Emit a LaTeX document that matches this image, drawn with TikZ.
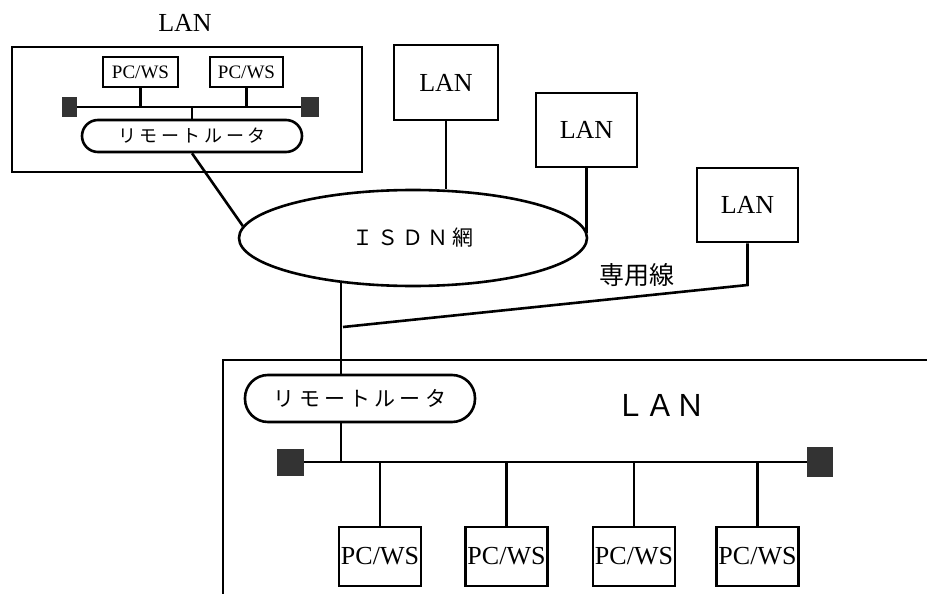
\documentclass[tikz,border=0pt]{standalone}
\usepackage{fontspec}
\usetikzlibrary{shapes.geometric}
\setmainfont{Liberation Serif}
\newfontfamily\jpfont{Noto Sans CJK JP}
\newfontfamily\jpwide[LetterSpace=20]{Noto Sans CJK JP}

\tikzset{
	wire/.style={line width=2.6pt},
	lanbox/.style={draw,wire,inner sep=0pt,font=\fontsize{26}{28}\selectfont},
	pcbox/.style={draw,wire,inner sep=0pt},
	router/.style={draw,wire,rounded corners=16pt,inner sep=0pt},
	term/.style={fill=black!80,inner sep=0pt}
}

\begin{document}
\begin{tikzpicture}[x=1pt,y=-1pt]
	\useasboundingbox (0,0) rectangle (927,594);
	
	% LAN top left
	\node[font=\fontsize{26}{28}\selectfont] (lanlbl) at (185,23) {LAN};
	\node[lanbox,minimum width=350pt,minimum height=125pt] (lanA) at (187,109.5) {};
	\node[pcbox,minimum width=75pt,minimum height=30pt,font=\fontsize{19}{20}\selectfont] (pcA1) at (140.5,72) {PC/WS};
	\node[pcbox,minimum width=73pt,minimum height=30pt,font=\fontsize{19}{20}\selectfont] (pcA2) at (246.5,72) {PC/WS};
	\node[term,minimum width=15pt,minimum height=20pt] (tA1) at (69.5,107) {};
	\node[term,minimum width=18pt,minimum height=20pt] (tA2) at (310,107) {};
	\node[router,minimum width=220pt,minimum height=32pt,font=\jpwide\fontsize{18}{20}\selectfont] (rtA) at (192,136) {リモートルータ};
	
	\draw [wire] (tA1) -- (tA2);
	\draw [wire] (pcA1) -- (pcA1 |- tA1);
	\draw [wire] (pcA2) -- (pcA2 |- tA1);
	\draw [wire] (rtA.north) -- (rtA.north |- tA1);
	
	% ISDN and the other LANs
	\node[draw,ellipse,wire,inner sep=0pt,minimum width=348pt,minimum height=96pt,font=\jpwide\fontsize{21}{23}\selectfont] (isdn) at (413,238) {ＩＳＤＮ網};
	\node[lanbox,minimum width=104pt,minimum height=75pt] (lanB) at (446,82.5) {LAN};
	\node[lanbox,minimum width=101pt,minimum height=74pt] (lanC) at (586.5,130) {LAN};
	\node[lanbox,minimum width=101pt,minimum height=74pt] (lanD) at (747.5,205) {LAN};
	\node[font=\jpfont\fontsize{25}{27}\selectfont] (senyo) at (637,275) {専用線};
	\coordinate (bend) at (747.5,285);
	\coordinate (jn) at (343,327);
	
	\draw [wire] (rtA.south) -- (isdn.176);
	\draw [wire] (lanB) -- (lanB |- isdn.north);
	\draw [wire] (lanC) -- ([yshift=5pt]lanC |- isdn.east);
	\draw [wire] (lanD) -- (bend) -- (jn);
	
	% LAN bottom
	\draw [wire] (940,360) -- (223,360) -- (223,600);
	\node[router,rounded corners=23pt,minimum width=230pt,minimum height=47pt,font=\jpwide\fontsize{21}{23}\selectfont] (rtB) at (360,398.5) {リモートルータ};
	\node[font=\jpfont\fontsize{30}{32}\selectfont] (lanlblB) at (660,405) {ＬＡＮ};
	\node[term,minimum width=27pt,minimum height=27pt] (tB1) at (290.5,462) {};
	\node[term,minimum width=26pt,minimum height=30pt] (tB2) at (820,462) {};
	\node[pcbox,minimum width=82pt,minimum height=59pt,font=\fontsize{26}{28}\selectfont] (pcB1) at (380,556.5) {PC/WS};
	\node[pcbox,minimum width=82pt,minimum height=59pt,font=\fontsize{26}{28}\selectfont] (pcB2) at (506.5,556.5) {PC/WS};
	\node[pcbox,minimum width=82pt,minimum height=59pt,font=\fontsize{26}{28}\selectfont] (pcB3) at (634,556.5) {PC/WS};
	\node[pcbox,minimum width=82pt,minimum height=59pt,font=\fontsize{26}{28}\selectfont] (pcB4) at (757.5,556.5) {PC/WS};
	
	\draw [wire] (isdn.212) -- (isdn.212 |- rtB.north);
	\draw [wire] (isdn.212 |- rtB.south) -- (isdn.212 |- tB1);
	\draw [wire] (tB1) -- (tB2);
	\draw [wire] (pcB1) -- (pcB1 |- tB1);
	\draw [wire] (pcB2) -- (pcB2 |- tB1);
	\draw [wire] (pcB3) -- (pcB3 |- tB1);
	\draw [wire] (pcB4) -- (pcB4 |- tB1);
	
\end{tikzpicture}
\end{document}
